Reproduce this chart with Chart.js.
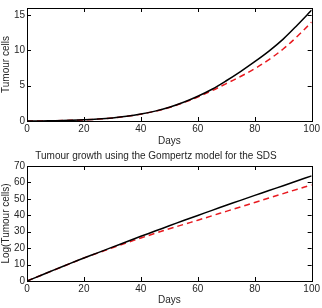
<!DOCTYPE html>
<html>
<head>
<meta charset="utf-8">
<script src="https://cdn.jsdelivr.net/npm/chart.js@4.4.0/dist/chart.umd.min.js"></script>
<style>
  html, body { margin: 0; padding: 0; background: #fff; overflow: hidden; }
  canvas { position: absolute; left: 0; }
  #top { top: 0; }
  #bot { top: 150px; }
</style>
</head>
<body>
<canvas id="top" width="322" height="150"></canvas>
<canvas id="bot" width="322" height="158"></canvas>
<script>
// ── data ──
const days = [0, 5, 10, 15, 20, 25, 30, 35, 40, 45, 50, 55, 60, 65, 70, 75, 80, 85, 90, 95, 100];

// top panel: tumour cells (x 10^5)
const cellsModel = [0, 0.01, 0.04, 0.09, 0.16, 0.27, 0.43, 0.66, 0.98, 1.4, 1.95, 2.65, 3.5, 4.5, 5.7, 7.0, 8.4, 9.9, 11.6, 13.6, 15.7];
const cellsSDS   = [0, 0.01, 0.04, 0.09, 0.16, 0.27, 0.43, 0.66, 0.97, 1.38, 1.9, 2.6, 3.4, 4.3, 5.3, 6.3, 7.4, 8.7, 10.2, 12.0, 14.0];

// bottom panel: log(tumour cells)
const logModel = [0, 3.5, 7.1, 10.6, 14.0, 17.3, 20.6, 23.9, 27.2, 30.4, 33.6, 36.8, 39.9, 43.0, 46.1, 49.1, 52.1, 55.1, 58.0, 61.0, 64.0];
const logSDS   = [0, 3.5, 7.0, 10.5, 14.0, 17.1, 20.2, 23.2, 26.2, 29.0, 31.8, 34.4, 37.0, 39.7, 42.4, 45.1, 47.8, 50.5, 53.2, 55.9, 58.5];

const xTicks = [0, 20, 40, 60, 80, 100];
const topYTicks = [0, 5, 10, 15];
const botYTicks = [0, 10, 20, 30, 40, 50, 60, 70];

const FONT = 'Liberation Sans, Arial, sans-serif';
const TXT = '#262626';

// matlab-like box with inward ticks on all sides
const boxTicks = {
  id: 'boxTicks',
  afterDraw(chart) {
    const { ctx, chartArea: a, scales } = chart;
    const len = 4;
    ctx.save();
    ctx.strokeStyle = '#000';
    ctx.lineWidth = 1;
    ctx.beginPath();
    scales.x.ticks.forEach(t => {
      const px = Math.round(scales.x.getPixelForValue(t.value)) + 0.5;
      ctx.moveTo(px, a.bottom); ctx.lineTo(px, a.bottom - len);
      ctx.moveTo(px, a.top);    ctx.lineTo(px, a.top + len);
    });
    scales.y.ticks.forEach(t => {
      const py = Math.round(scales.y.getPixelForValue(t.value)) + 0.5;
      ctx.moveTo(a.left, py);  ctx.lineTo(a.left + len, py);
      ctx.moveTo(a.right, py); ctx.lineTo(a.right - len, py);
    });
    ctx.stroke();
    ctx.strokeRect(Math.round(a.left) + 0.5, Math.round(a.top) + 0.5,
                   Math.round(a.right - a.left), Math.round(a.bottom - a.top));
    ctx.restore();
  }
};

const pts = (xs, ys) => xs.map((x, i) => ({ x, y: ys[i] }));

function makeChart(id, model, sds, yMax, yTicks, yTitle, title, pad, xH) {
  const titleOpts = title
    ? { display: true, text: title, color: TXT, font: { family: FONT, size: 10, weight: 'normal' }, padding: { top: 0, bottom: 4 } }
    : { display: false };
  return new Chart(document.getElementById(id), {
    type: 'line',
    data: {
      datasets: [
        { data: pts(days, model), borderColor: '#000', borderWidth: 1.5, pointRadius: 0,
          tension: 0.35, fill: false },
        { data: pts(days, sds), borderColor: '#e8191f', borderWidth: 1.5, borderDash: [6, 4],
          pointRadius: 0, tension: 0.35, fill: false }
      ]
    },
    options: {
      responsive: false, animation: false, devicePixelRatio: 1,
      layout: { padding: pad },
      plugins: { legend: { display: false }, tooltip: { enabled: false }, title: titleOpts },
      scales: {
        x: {
          type: 'linear', min: 0, max: 100,
          afterBuildTicks: s => { s.ticks = xTicks.map(v => ({ value: v })); },
          afterFit: s => { s.height = xH; },
          grid: { display: false, drawTicks: false },
          border: { display: false },
          ticks: { color: TXT, font: { family: FONT, size: 10 }, padding: 2, maxRotation: 0 },
          title: { display: true, text: 'Days', color: TXT, font: { family: FONT, size: 10 }, padding: { top: 0, bottom: 0 } }
        },
        y: {
          type: 'linear', min: 0, max: yMax,
          afterBuildTicks: s => { s.ticks = yTicks.map(v => ({ value: v })); },
          afterFit: s => { s.width = 27; },
          grid: { display: false, drawTicks: false },
          border: { display: false },
          ticks: { color: TXT, font: { family: FONT, size: 10 }, padding: 2 },
          title: { display: true, text: yTitle, color: TXT, font: { family: FONT, size: 10 }, padding: { top: 0, bottom: 0 } }
        }
      }
    },
    plugins: [boxTicks]
  });
}

makeChart('top', cellsModel, cellsSDS, 16, topYTicks, 'Tumour cells', null,
  { left: 0, right: 10, top: 3, bottom: 3 }, 26);
makeChart('bot', logModel, logSDS, 70, botYTicks, 'Log(Tumour cells)',
  'Tumour growth using the Gompertz model for the SDS',
  { left: 0, right: 10, top: 0, bottom: 2 }, 25);
</script>
</body>
</html>
